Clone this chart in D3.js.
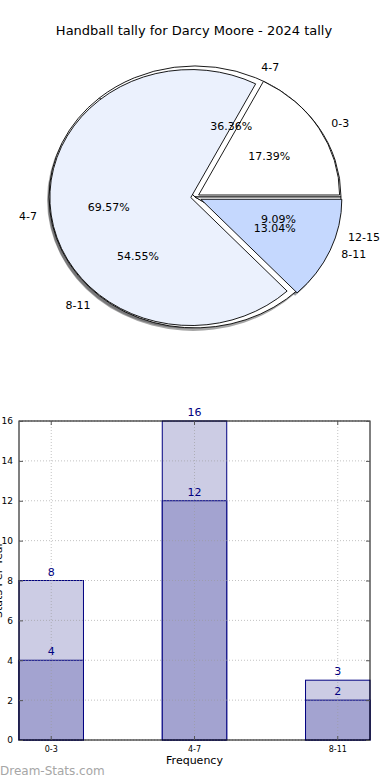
<!DOCTYPE html>
<html>
<head>
<meta charset="utf-8">
<script src="https://cdn.jsdelivr.net/npm/d3@7"></script>
<style>
  body { margin: 0; background: #fff; }
  svg { display: block; font-family: "DejaVu Sans", sans-serif; }
</style>
</head>
<body>
<svg id="chart" width="390" height="780"></svg>
<script>
// pie data (two pies drawn on top of each other)
var pieALabels = ["0-3", "4-7", "8-11"];
var pieAValues = [4, 16, 3];
var pieAColors = ["#ffffff", "#ebf1fd", "#c5d8fe"];
var pieAExplode = [0.03, 0.03, 0.045];

var pieBLabels = ["4-7", "8-11", "12-15"];
var pieBValues = [4, 6, 1];
var pieBColors = ["#ffffff", "#ffffff", "#ffffff"];

// bar data
var categories = ["0-3", "4-7", "8-11"];
var totalValues = [8, 16, 3];
var partValues = [4, 12, 2];
var yTicks = [0, 2, 4, 6, 8, 10, 12, 14, 16];

var svg = d3.select("#chart");

svg.append("text")
    .attr("x", 194)
    .attr("y", 35)
    .attr("text-anchor", "middle")
    .style("font-size", "13px")
    .style("fill", "#000")
    .text("Handball tally for Darcy Moore - 2024 tally");

// ---- pie ----
var cx = 195, cy = 197;
var labelRx = 145, labelRy = 130;

var pie = d3.pie().sort(null)
    .startAngle(Math.PI / 2)
    .endAngle(Math.PI / 2 - 2 * Math.PI);
var arc = d3.arc().innerRadius(0).outerRadius(1);

function midAngle(d) { return (d.startAngle + d.endAngle) / 2; }

function shadowColor(c) {
    var r = d3.rgb(c);
    return d3.rgb(r.r * 0.3, r.g * 0.3, r.b * 0.3).toString();
}

function wedgeTransform(d, i, rx, ry, explode, dx, dy) {
    var a = midAngle(d), e = explode ? explode[i] : 0;
    var x = cx + e * rx * Math.sin(a) + (dx || 0);
    var y = cy - e * ry * Math.cos(a) + (dy || 0);
    return "translate(" + x + "," + y + ") scale(" + rx + "," + ry + ")";
}

var arcsA = pie(pieAValues);
var arcsB = pie(pieBValues);

var pieSpecs = [
    {arcs: arcsB, colors: pieBColors, explode: null, rx: 146, ry: 131},
    {arcs: arcsA, colors: pieAColors, explode: pieAExplode, rx: 141, ry: 128}
];

var pieG = svg.append("g").attr("id", "pieG");

// shadows first, below all wedges
pieSpecs.forEach(function(p) {
    pieG.selectAll(null)
        .data(p.arcs)
        .enter()
        .append("path")
        .attr("d", arc)
        .attr("transform", function(d, i) {
            return wedgeTransform(d, i, p.rx, p.ry, p.explode, -2, 3);
        })
        .style("fill", function(d, i) { return shadowColor(p.colors[i]); })
        .style("opacity", 0.5);
});

pieSpecs.forEach(function(p) {
    pieG.selectAll(null)
        .data(p.arcs)
        .enter()
        .append("path")
        .attr("d", arc)
        .attr("transform", function(d, i) {
            return wedgeTransform(d, i, p.rx, p.ry, p.explode);
        })
        .attr("vector-effect", "non-scaling-stroke")
        .style("fill", function(d, i) { return p.colors[i]; })
        .style("stroke", "#000")
        .style("stroke-width", "0.9px");
});

function pieText(arcs, labels) {
    var total = d3.sum(arcs, function(d) { return d.value; });
    arcs.forEach(function(d, i) {
        var a = midAngle(d);
        var sx = Math.sin(a), sy = -Math.cos(a);
        pieG.append("text")
            .attr("x", cx + 1.1 * labelRx * sx)
            .attr("y", cy + 1.1 * labelRy * sy)
            .attr("dy", "0.35em")
            .attr("text-anchor", sx > 0 ? "start" : "end")
            .style("font-size", "11px")
            .text(labels[i]);
        pieG.append("text")
            .attr("x", cx + 0.6 * labelRx * sx)
            .attr("y", cy + 0.6 * labelRy * sy)
            .attr("dy", "0.35em")
            .attr("text-anchor", "middle")
            .style("font-size", "11px")
            .text((d.value / total * 100).toFixed(2) + "%");
    });
}
pieText(arcsA, pieALabels);
pieText(arcsB, pieBLabels);

// ---- bar chart ----
var plotLeft = 19, plotRight = 370, plotTop = 421, plotBottom = 740;

var xScale = d3.scaleBand()
    .domain(categories)
    .range([plotLeft, plotRight])
    .paddingInner(0.55)
    .paddingOuter(0);

var yScale = d3.scaleLinear()
    .domain([0, 16])
    .range([plotBottom, plotTop]);

var barG = svg.append("g").attr("id", "barG");

barG.selectAll("rect.total")
    .data(categories)
    .enter()
    .append("rect")
    .attr("class", "total")
    .attr("x", function(d) { return xScale(d); })
    .attr("width", xScale.bandwidth())
    .attr("y", function(d, i) { return yScale(totalValues[i]); })
    .attr("height", function(d, i) { return plotBottom - yScale(totalValues[i]); })
    .style("fill", "#cccce4")
    .style("stroke", "#000080")
    .style("stroke-width", "1px");

barG.selectAll("rect.part")
    .data(categories)
    .enter()
    .append("rect")
    .attr("class", "part")
    .attr("x", function(d) { return xScale(d); })
    .attr("width", xScale.bandwidth())
    .attr("y", function(d, i) { return yScale(partValues[i]); })
    .attr("height", function(d, i) { return plotBottom - yScale(partValues[i]); })
    .style("fill", "#a3a3d0")
    .style("stroke", "#000080")
    .style("stroke-width", "1px");

// dotted grid over the bars
barG.selectAll("line.hgrid")
    .data(yTicks)
    .enter()
    .append("line")
    .attr("class", "hgrid")
    .attr("x1", plotLeft).attr("x2", plotRight)
    .attr("y1", function(d) { return yScale(d); })
    .attr("y2", function(d) { return yScale(d); })
    .style("stroke", "#999")
    .style("stroke-opacity", 0.6)
    .style("stroke-dasharray", "1,2");

barG.selectAll("line.vgrid")
    .data(categories)
    .enter()
    .append("line")
    .attr("class", "vgrid")
    .attr("x1", function(d) { return xScale(d) + xScale.bandwidth() / 2; })
    .attr("x2", function(d) { return xScale(d) + xScale.bandwidth() / 2; })
    .attr("y1", plotTop).attr("y2", plotBottom)
    .style("stroke", "#999")
    .style("stroke-opacity", 0.6)
    .style("stroke-dasharray", "1,2");

// value labels
function valueLabels(values) {
    barG.selectAll(null)
        .data(categories)
        .enter()
        .append("text")
        .attr("x", function(d) { return xScale(d) + xScale.bandwidth() / 2; })
        .attr("y", function(d, i) { return yScale(values[i]) - 5; })
        .attr("text-anchor", "middle")
        .style("font-size", "11px")
        .style("fill", "#000080")
        .text(function(d, i) { return values[i]; });
}
valueLabels(totalValues);
valueLabels(partValues);

// frame
barG.append("rect")
    .attr("x", plotLeft).attr("y", plotTop)
    .attr("width", plotRight - plotLeft).attr("height", plotBottom - plotTop)
    .style("fill", "none")
    .style("stroke", "#000")
    .style("stroke-width", "1px");

// axes with inward ticks
var yAxis = d3.axisLeft(yScale).tickValues(yTicks).tickSizeInner(-4).tickSizeOuter(0).tickPadding(6);
var yAxisG = barG.append("g")
    .attr("transform", "translate(" + plotLeft + ",0)")
    .call(yAxis);
yAxisG.select(".domain").remove();
yAxisG.selectAll("text").style("font-size", "9px").style("font-family", "DejaVu Sans");

var xAxis = d3.axisBottom(xScale).tickSizeInner(-4).tickSizeOuter(0).tickPadding(6);
var xAxisG = barG.append("g")
    .attr("transform", "translate(0," + plotBottom + ")")
    .call(xAxis);
xAxisG.select(".domain").remove();
xAxisG.selectAll("text").style("font-size", "8px").style("font-family", "DejaVu Sans");

barG.append("g")
    .attr("transform", "translate(" + plotRight + ",0)")
    .call(d3.axisRight(yScale).tickValues(yTicks).tickSizeInner(-4).tickSizeOuter(0).tickFormat(""))
    .select(".domain").remove();

barG.append("g")
    .attr("transform", "translate(0," + plotTop + ")")
    .call(d3.axisTop(xScale).tickSizeInner(-4).tickSizeOuter(0).tickFormat(""))
    .select(".domain").remove();

barG.selectAll(".tick line").style("stroke", "#555");

barG.append("text")
    .attr("x", (plotLeft + plotRight) / 2)
    .attr("y", 764)
    .attr("text-anchor", "middle")
    .style("font-size", "11px")
    .style("fill", "#000")
    .text("Frequency");

barG.append("text")
    .attr("transform", "translate(2,580) rotate(-90)")
    .attr("text-anchor", "middle")
    .style("font-size", "11px")
    .style("fill", "#000")
    .text("Stats Per Year");

svg.append("text")
    .attr("x", 0)
    .attr("y", 775)
    .style("font-size", "12px")
    .style("fill", "#a6a6a6")
    .text("Dream-Stats.com");
</script>
</body>
</html>
